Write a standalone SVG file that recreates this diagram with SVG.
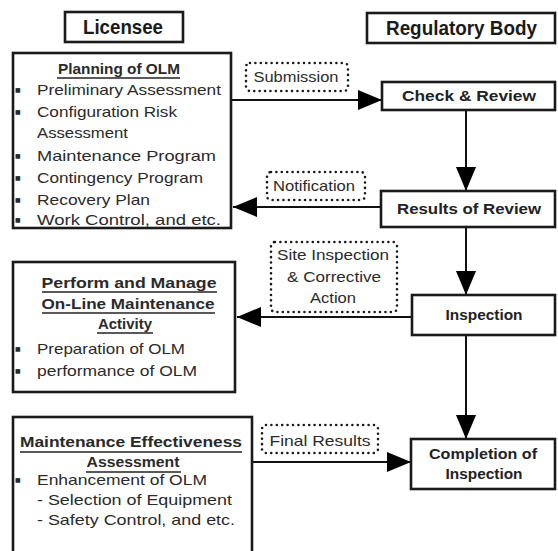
<svg xmlns="http://www.w3.org/2000/svg" width="558" height="551" viewBox="0 0 558 551">
<style>
.box{fill:#fff;stroke:#1a1a1a;stroke-width:2.6}
.dot{fill:#fff;stroke:#1a1a1a;stroke-width:2.6;stroke-dasharray:0 5.4;stroke-linecap:round}
.con{fill:none;stroke:#111;stroke-width:2}
.hd{font-family:"Liberation Sans",Arial,sans-serif;font-size:21px;font-weight:bold;fill:#1a1a1a}
.nd{font-family:"Liberation Sans",Arial,sans-serif;font-size:15px;font-weight:bold;fill:#222;text-anchor:middle}
.tt{font-family:"Liberation Sans",Arial,sans-serif;font-size:15px;font-weight:bold;fill:#2a2a2a;text-anchor:middle}
.bl{font-family:"Liberation Sans",Arial,sans-serif;font-size:15px;fill:#2a2a2a}
.bu{font-family:"DejaVu Sans","Liberation Sans",sans-serif;font-size:6px;fill:#2a2a2a}
.lb{font-family:"Liberation Sans",Arial,sans-serif;font-size:15px;fill:#2a2a2a;text-anchor:middle}
.ul{stroke:#222;stroke-width:1.5}
</style>
<defs>
<marker id="ah" viewBox="0 0 24 20" refX="24" refY="10" markerWidth="24" markerHeight="20" markerUnits="userSpaceOnUse" orient="auto">
<path d="M0,0 L24,10 L0,20 z" fill="#000"/>
</marker>
</defs>

<g id="connectors">
<path class="con" d="M231,100 H382" marker-end="url(#ah)"/>
<path class="con" d="M466,110 V191" marker-end="url(#ah)"/>
<path class="con" d="M381,207 H233" marker-end="url(#ah)"/>
<path class="con" d="M466,227 V295" marker-end="url(#ah)"/>
<path class="con" d="M412,317 H237" marker-end="url(#ah)"/>
<path class="con" d="M466,335 V439" marker-end="url(#ah)"/>
<path class="con" d="M252,462 H411" marker-end="url(#ah)"/>
</g>

<g id="licensee">
<rect class="box" x="65" y="12" width="118" height="30"/>
<text class="hd" x="83" y="34" textLength="80" lengthAdjust="spacingAndGlyphs">Licensee</text>
</g>

<g id="regulatory-body">
<rect class="box" x="367" y="13" width="188" height="30"/>
<text class="hd" x="386" y="35" textLength="151" lengthAdjust="spacingAndGlyphs">Regulatory Body</text>
</g>

<g id="planning">
<rect class="box" x="13" y="53" width="218" height="175"/>
<text class="tt" x="119" y="74" textLength="122" lengthAdjust="spacingAndGlyphs">Planning of OLM</text>
<line class="ul" x1="57" y1="78" x2="180" y2="78"/>
<text class="bu" x="15" y="92">■</text><text class="bl" x="37" y="95" textLength="184" lengthAdjust="spacingAndGlyphs">Preliminary Assessment</text>
<text class="bu" x="15" y="114">■</text><text class="bl" x="37" y="117" textLength="140" lengthAdjust="spacingAndGlyphs">Configuration Risk</text>
<text class="bl" x="37" y="138" textLength="91" lengthAdjust="spacingAndGlyphs">Assessment</text>
<text class="bu" x="15" y="158">■</text><text class="bl" x="37" y="161" textLength="179" lengthAdjust="spacingAndGlyphs">Maintenance Program</text>
<text class="bu" x="15" y="180">■</text><text class="bl" x="37" y="183" textLength="166" lengthAdjust="spacingAndGlyphs">Contingency Program</text>
<text class="bu" x="15" y="202">■</text><text class="bl" x="37" y="205" textLength="113" lengthAdjust="spacingAndGlyphs">Recovery Plan</text>
<text class="bu" x="15" y="222">■</text><text class="bl" x="37" y="225" textLength="184" lengthAdjust="spacingAndGlyphs">Work Control, and etc.</text>
</g>

<g id="submission">
<rect class="dot" x="246" y="63" width="102" height="28" rx="4"/>
<text class="lb" x="296" y="82" textLength="85" lengthAdjust="spacingAndGlyphs">Submission</text>
</g>

<g id="check-review">
<rect class="box" x="382" y="82" width="173" height="28"/>
<text class="nd" x="469" y="101" textLength="134" lengthAdjust="spacingAndGlyphs">Check &amp; Review</text>
</g>

<g id="notification">
<rect class="dot" x="267" y="172" width="98" height="28" rx="4"/>
<text class="lb" x="314" y="191" textLength="82" lengthAdjust="spacingAndGlyphs">Notification</text>
</g>

<g id="results-of-review">
<rect class="box" x="381" y="191" width="174" height="36"/>
<text class="nd" x="469" y="214" textLength="144" lengthAdjust="spacingAndGlyphs">Results of Review</text>
</g>

<g id="site-inspection">
<rect class="dot" x="271" y="242" width="126" height="70" rx="4"/>
<text class="lb" x="333" y="260" textLength="112" lengthAdjust="spacingAndGlyphs">Site Inspection</text>
<text class="lb" x="334" y="282" textLength="94" lengthAdjust="spacingAndGlyphs">&amp; Corrective</text>
<text class="lb" x="333" y="303" textLength="46" lengthAdjust="spacingAndGlyphs">Action</text>
</g>

<g id="inspection">
<rect class="box" x="412" y="295" width="143" height="40"/>
<text class="nd" x="484" y="320" textLength="77" lengthAdjust="spacingAndGlyphs">Inspection</text>
</g>

<g id="perform">
<rect class="box" x="13" y="262" width="222" height="130"/>
<text class="tt" x="129" y="288" textLength="175" lengthAdjust="spacingAndGlyphs">Perform and Manage</text>
<line class="ul" x1="42" y1="292" x2="217" y2="292"/>
<text class="tt" x="128" y="309" textLength="173" lengthAdjust="spacingAndGlyphs">On-Line Maintenance</text>
<line class="ul" x1="42" y1="313" x2="215" y2="313"/>
<text class="tt" x="125" y="329" textLength="54" lengthAdjust="spacingAndGlyphs">Activity</text>
<line class="ul" x1="97" y1="333" x2="153" y2="333"/>
<text class="bu" x="15" y="351">■</text><text class="bl" x="37" y="354" textLength="148" lengthAdjust="spacingAndGlyphs">Preparation of OLM</text>
<text class="bu" x="15" y="373">■</text><text class="bl" x="37" y="376" textLength="160" lengthAdjust="spacingAndGlyphs">performance of OLM</text>
</g>

<g id="final-results">
<rect class="dot" x="262" y="425" width="116" height="28" rx="4"/>
<text class="lb" x="320" y="446" textLength="101" lengthAdjust="spacingAndGlyphs">Final Results</text>
</g>

<g id="completion">
<rect class="box" x="411" y="439" width="144" height="50"/>
<text class="nd" x="483" y="459" textLength="108" lengthAdjust="spacingAndGlyphs">Completion of</text>
<text class="nd" x="484" y="479" textLength="77" lengthAdjust="spacingAndGlyphs">Inspection</text>
</g>

<g id="maintenance-effectiveness">
<rect class="box" x="13" y="417" width="239" height="145"/>
<text class="tt" x="131" y="447" textLength="222" lengthAdjust="spacingAndGlyphs">Maintenance Effectiveness</text>
<line class="ul" x1="20" y1="452" x2="242" y2="452"/>
<text class="tt" x="133" y="467" textLength="93" lengthAdjust="spacingAndGlyphs">Assessment</text>
<line class="ul" x1="86" y1="472" x2="181" y2="472"/>
<text class="bu" x="15" y="482">■</text><text class="bl" x="37" y="485" textLength="170" lengthAdjust="spacingAndGlyphs">Enhancement of OLM</text>
<text class="bl" x="37" y="505" textLength="195" lengthAdjust="spacingAndGlyphs">- Selection of Equipment</text>
<text class="bl" x="37" y="525" textLength="198" lengthAdjust="spacingAndGlyphs">- Safety Control, and etc.</text>
</g>
</svg>
